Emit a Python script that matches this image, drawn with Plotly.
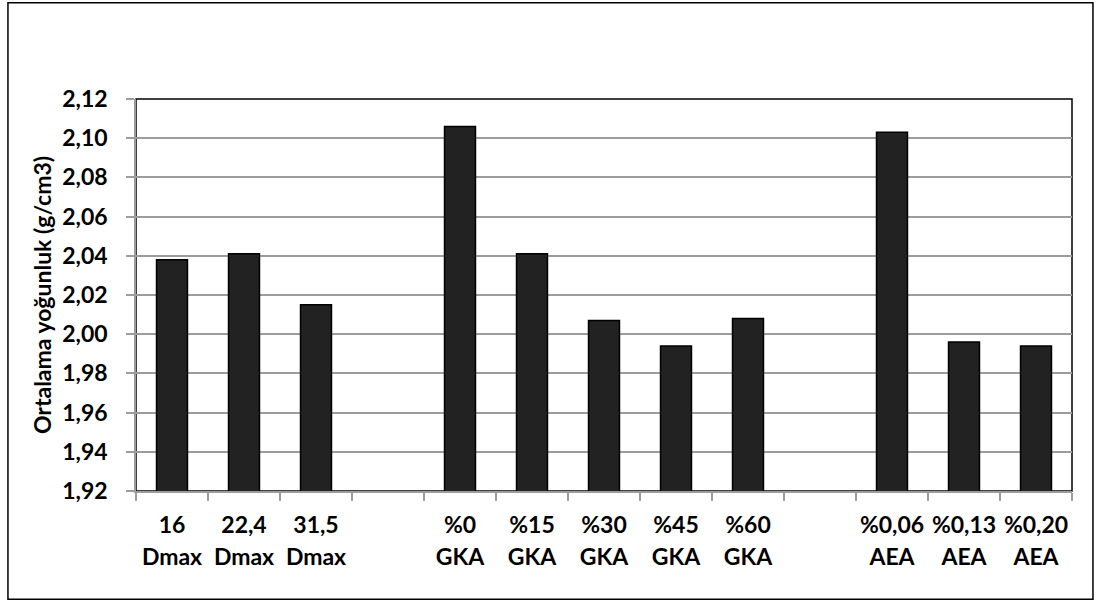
import plotly.graph_objects as go

# Mean density per mix; empty slots separate the three groups
categories = ["16 Dmax", "22,4 Dmax", "31,5 Dmax", "",
              "%0 GKA", "%15 GKA", "%30 GKA", "%45 GKA", "%60 GKA", " ",
              "%0,06 AEA", "%0,13 AEA", "%0,20 AEA"]
label_top = ["16", "22,4", "31,5", "",
             "%0", "%15", "%30", "%45", "%60", "",
             "%0,06", "%0,13", "%0,20"]
label_bottom = ["Dmax", "Dmax", "Dmax", "",
                "GKA", "GKA", "GKA", "GKA", "GKA", "",
                "AEA", "AEA", "AEA"]
density = [2.038, 2.041, 2.015, None,
           2.106, 2.041, 2.007, 1.994, 2.008, None,
           2.103, 1.996, 1.994]
y_ticks = [1.92, 1.94, 1.96, 1.98, 2.00, 2.02, 2.04, 2.06, 2.08, 2.10, 2.12]

pos = list(range(len(categories)))
label_pos = [p for p, c in zip(pos, categories) if c.strip()]
tops = [t for t, c in zip(label_top, categories) if c.strip()]
bottoms = [b for b, c in zip(label_bottom, categories) if c.strip()]
boundaries = [p - 0.5 for p in pos] + [pos[-1] + 0.5]

FONT = "Lato"
FS = 23
GRID = "#9c9c9c"

fig = go.Figure()
fig.add_trace(go.Bar(
    x=pos, y=density, width=0.43,
    marker=dict(color="#222222", line=dict(color="#000000", width=1.5)),
    hoverinfo="skip", showlegend=False,
))
# carrier trace for the second row of category labels
fig.add_trace(go.Scatter(
    x=pos, y=density, xaxis="x2", mode="markers",
    marker=dict(opacity=0), hoverinfo="skip", showlegend=False,
))

fig.update_layout(
    width=1096, height=601,
    margin=dict(l=136, r=24, t=99, b=110),
    paper_bgcolor="white", plot_bgcolor="white",
    separators=",.",
    font=dict(family=FONT, size=FS, color="#000000", weight="bold"),
    xaxis=dict(
        range=[-0.5, len(pos) - 0.5],
        tickmode="array", tickvals=label_pos, ticktext=tops,
        ticks="", showgrid=False, zeroline=False,
        showline=True, linecolor=GRID, linewidth=1.5,
        ticklabelstandoff=13,
        tickfont=dict(family=FONT, size=FS, weight="bold"),
        minor=dict(tickmode="array", tickvals=boundaries, ticks="outside",
                   ticklen=8, tickwidth=1.5, tickcolor=GRID, showgrid=False),
    ),
    xaxis2=dict(
        overlaying="x", matches="x", anchor="y", side="bottom",
        tickmode="array", tickvals=label_pos, ticktext=bottoms,
        ticks="", showgrid=False, zeroline=False, showline=False,
        ticklabelstandoff=50,
        tickfont=dict(family=FONT, size=FS, weight="bold"),
    ),
    yaxis=dict(
        range=[1.92, 2.12],
        tickmode="array", tickvals=y_ticks, tickformat=".2f",
        ticks="outside", ticklen=8, tickwidth=1.5, tickcolor=GRID,
        ticklabelstandoff=14,
        showgrid=True, gridcolor=GRID, gridwidth=1.5,
        zeroline=False, showline=True, linecolor=GRID, linewidth=1.5,
        tickfont=dict(family=FONT, size=FS, weight="bold"),
        title=dict(text="Ortalama yoğunluk (g/cm3)", standoff=4,
                   font=dict(family=FONT, size=FS, weight="bold")),
    ),
    shapes=[
        # plot area frame
        dict(type="rect", xref="paper", yref="paper", x0=0, x1=1, y0=0, y1=1,
             line=dict(color="#000000", width=1.5), layer="below"),
        # chart frame
        dict(type="rect", xref="paper", yref="paper",
             x0=-0.1368, x1=1.0224, y0=-0.2762, y1=1.2455,
             line=dict(color="#000000", width=1.5), layer="below"),
    ],
)

fig.write_html("out.html")
